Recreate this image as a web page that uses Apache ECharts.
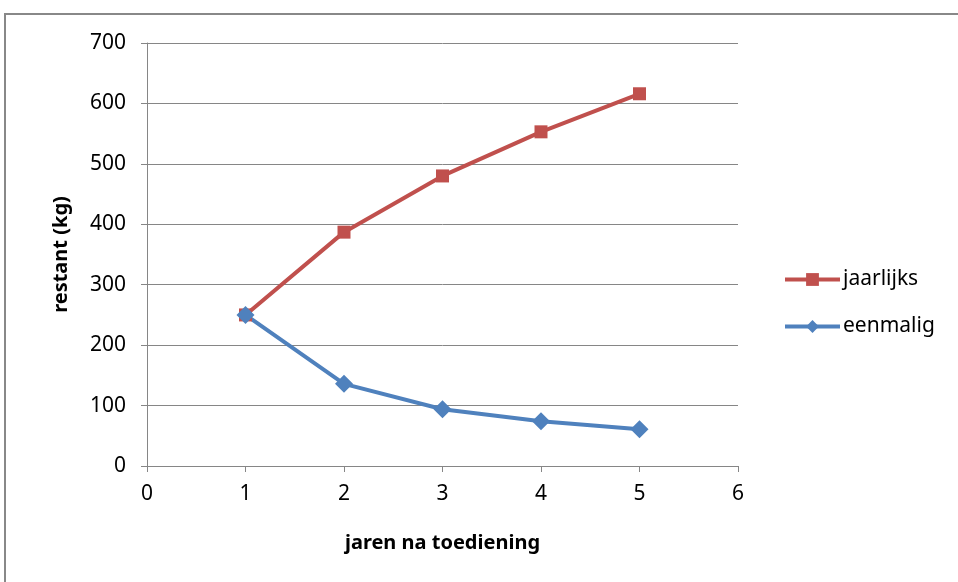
<!DOCTYPE html>
<html>
<head>
<meta charset="utf-8">
<script src="https://cdn.jsdelivr.net/npm/echarts@6/dist/echarts.min.js"></script>
<style>
  html, body { margin: 0; padding: 0; background: #fff; }
  #chart { width: 958px; height: 582px; }
</style>
</head>
<body>
<div id="chart"></div>
<script>
const jaren = [1, 2, 3, 4, 5]
const jaarlijks = [250, 387, 480, 553, 616]
const eenmalig = [250, 136, 94, 74, 61]
const yTicks = [0, 100, 200, 300, 400, 500, 600, 700]
const xTicks = [0, 1, 2, 3, 4, 5, 6]

const font = 'Liberation Sans Narrow, Noto Sans, sans-serif'
const gridColor = '#868686'

const chart = echarts.init(document.getElementById('chart'))

const axisCommon = {
  type: 'value',
  axisLine: { show: true, lineStyle: { color: gridColor, width: 1 } },
  axisTick: { show: true, length: 6, lineStyle: { color: gridColor } },
  nameTextStyle: { fontFamily: font, fontWeight: 'bold', fontSize: 20, color: '#000' }
}

const option = {
  animation: false,
  graphic: [{
    type: 'rect',
    shape: { x: 5, y: 14, width: 980, height: 600 },
    style: { fill: 'none', stroke: '#888', lineWidth: 2 }
  }],
  grid: { left: 147, right: 220, top: 43, bottom: 116 },
  legend: {
    orient: 'vertical',
    left: 783,
    top: 269,
    padding: 0,
    itemWidth: 55,
    itemHeight: 16,
    itemGap: 26,
    lineStyle: { width: 4 },
    textStyle: { fontFamily: font, fontSize: 21, color: '#000', padding: [0, 0, 0, -2] },
    data: ['jaarlijks', 'eenmalig']
  },
  xAxis: Object.assign({}, axisCommon, {
    min: xTicks[0],
    max: xTicks[xTicks.length - 1],
    interval: 1,
    name: 'jaren na toediening',
    nameLocation: 'middle',
    nameGap: 67,
    splitLine: { show: false },
    axisLabel: { margin: 18, fontFamily: font, fontSize: 21, color: '#000' }
  }),
  yAxis: Object.assign({}, axisCommon, {
    min: yTicks[0],
    max: yTicks[yTicks.length - 1],
    interval: 100,
    name: 'restant (kg)',
    nameLocation: 'middle',
    nameGap: 76,
    splitLine: { show: true, lineStyle: { color: gridColor, width: 1 } },
    axisLabel: { margin: 21, fontFamily: font, fontSize: 21, color: '#000' }
  }),
  series: [
    {
      name: 'jaarlijks',
      type: 'line',
      data: jaren.map((x, i) => [x, jaarlijks[i]]),
      symbol: 'rect',
      symbolSize: 13,
      lineStyle: { color: '#C0504D', width: 4 },
      itemStyle: { color: '#C0504D' }
    },
    {
      name: 'eenmalig',
      type: 'line',
      data: jaren.map((x, i) => [x, eenmalig[i]]),
      symbol: 'diamond',
      symbolSize: 18,
      lineStyle: { color: '#4F81BD', width: 4 },
      itemStyle: { color: '#4F81BD' }
    }
  ]
}

chart.setOption(option)
window.addEventListener('resize', () => chart.resize())
</script>
</body>
</html>
